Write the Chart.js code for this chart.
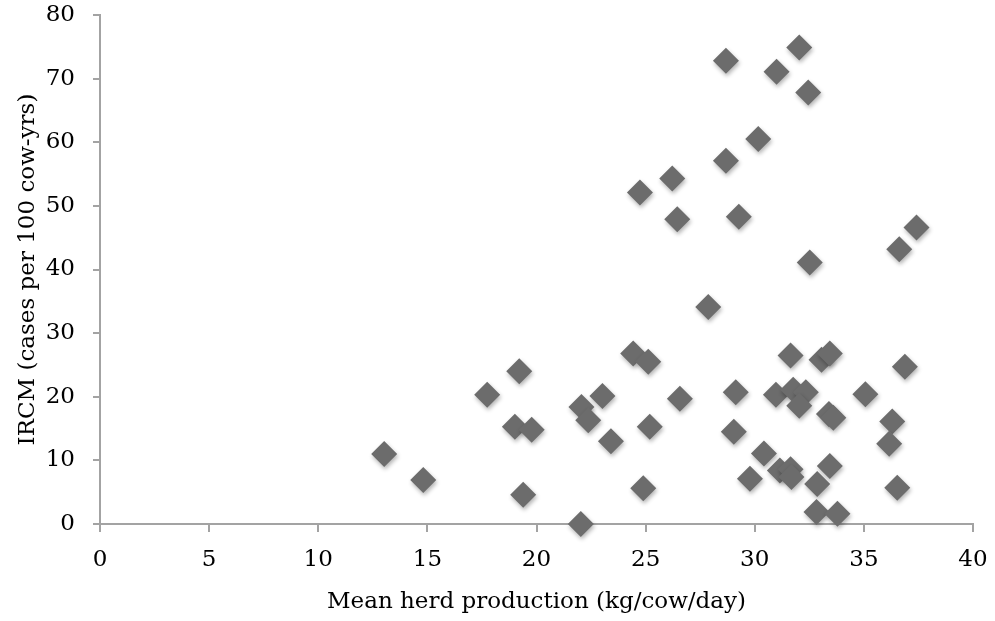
<!DOCTYPE html>
<html>
<head>
<meta charset="utf-8">
<script src="https://cdn.jsdelivr.net/npm/chart.js@4/dist/chart.umd.min.js"></script>
<style>
html,body{margin:0;padding:0;background:#fff;}
#wrap{width:995px;height:621px;}
</style>
</head>
<body>
<div id="wrap"><canvas id="c" width="995" height="621"></canvas></div>
<script>
const xTitle = 'Mean herd production (kg/cow/day)';
const yTitle = 'IRCM (cases per 100 cow-yrs)';
const xTicks = [0, 5, 10, 15, 20, 25, 30, 35, 40];
const yTicks = [0, 10, 20, 30, 40, 50, 60, 70, 80];

const production = [
  13.02, 14.81, 17.74, 19.21, 19.01, 19.78, 19.39, 22.03, 22.06, 22.37,
  23.02, 23.41, 24.43, 25.12, 25.19, 24.89, 26.57, 27.87, 24.74, 26.22,
  26.45, 28.68, 30.16, 29.27, 28.68, 31.00, 32.04, 32.45, 32.52, 36.62,
  37.41, 29.13, 29.04, 30.42, 29.78, 31.64, 33.06, 33.44, 30.97, 31.76,
  32.34, 32.04, 33.40, 33.60, 35.07, 36.88, 36.30, 36.16, 36.53, 31.15,
  31.64, 31.68, 33.44, 32.86, 32.83, 33.79
];
const ircm = [
  11.0, 6.9, 20.3, 24.0, 15.3, 14.8, 4.6, 0.0, 18.4, 16.3,
  20.1, 13.0, 26.8, 25.5, 15.3, 5.6, 19.7, 34.1, 52.1, 54.3,
  47.9, 57.1, 60.5, 48.3, 72.8, 71.1, 74.9, 67.8, 41.1, 43.2,
  46.6, 20.7, 14.5, 11.1, 7.1, 26.5, 25.8, 26.8, 20.3, 21.1,
  20.7, 18.6, 17.3, 16.7, 20.4, 24.7, 16.1, 12.6, 5.7, 8.4,
  8.6, 7.4, 9.1, 6.3, 1.9, 1.6
];

const points = production.map((x, i) => ({x: x, y: ircm[i]}));
const AXIS = '#a3a3a3';
const FONT = 'DejaVu Serif';

const shadowPlugin = {
  id: 'shadow',
  beforeDatasetsDraw(chart) {
    const ctx = chart.ctx;
    ctx.save();
    ctx.shadowColor = 'rgba(0,0,0,0.3)';
    ctx.shadowBlur = 4;
    ctx.shadowOffsetX = 1;
    ctx.shadowOffsetY = 2.5;
  },
  afterDatasetsDraw(chart) {
    chart.ctx.restore();
  }
};

new Chart(document.getElementById('c'), {
  type: 'scatter',
  data: {
    datasets: [{
      data: points,
      pointStyle: 'rectRot',
      pointRadius: 13,
      pointHoverRadius: 13,
      backgroundColor: '#6c6c6c',
      borderColor: '#6c6c6c',
      borderWidth: 0
    }]
  },
  plugins: [shadowPlugin],
  options: {
    responsive: false,
    animation: false,
    events: [],
    clip: false,
    layout: {padding: {top: 15, right: 22, left: 0, bottom: 0}},
    plugins: {legend: {display: false}, tooltip: {enabled: false}},
    scales: {
      x: {
        type: 'linear',
        min: 0, max: 40,
        afterBuildTicks: (s) => { s.ticks = xTicks.map(v => ({value: v})); },
        afterFit: (s) => { s.height = 97; s.paddingLeft = 0; s.paddingRight = 0; },
        grid: {display: true, drawOnChartArea: false, drawTicks: true, tickLength: 8, color: AXIS, lineWidth: 2},
        border: {display: true, color: AXIS, width: 2},
        ticks: {color: '#000', font: {family: FONT, size: 23}, padding: 14, maxRotation: 0},
        title: {display: true, text: xTitle, color: '#000', font: {family: FONT, size: 23}, padding: {top: 0, bottom: 5}}
      },
      y: {
        type: 'linear',
        min: 0, max: 80,
        afterBuildTicks: (s) => { s.ticks = yTicks.map(v => ({value: v})); },
        afterFit: (s) => { s.width = 100; s.paddingTop = 0; s.paddingBottom = 0; },
        grid: {display: true, drawOnChartArea: false, drawTicks: true, tickLength: 7, color: AXIS, lineWidth: 2},
        border: {display: true, color: AXIS, width: 2},
        ticks: {color: '#000', font: {family: FONT, size: 23}, padding: 18},
        title: {display: true, text: yTitle, color: '#000', font: {family: FONT, size: 23}, padding: {top: 14, bottom: 0}}
      }
    }
  }
});
</script>
</body>
</html>
